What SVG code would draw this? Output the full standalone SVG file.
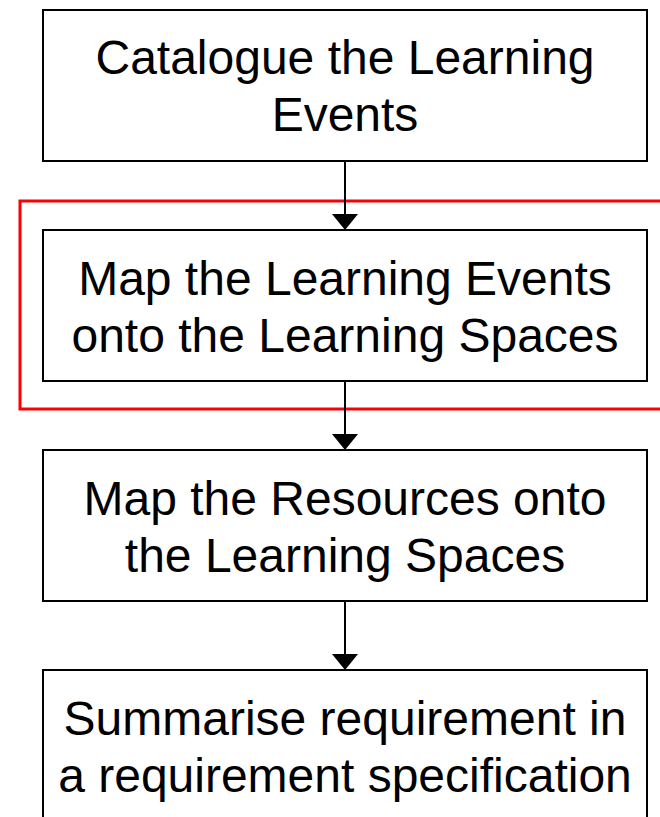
<svg xmlns="http://www.w3.org/2000/svg" width="660" height="817" viewBox="0 0 660 817">
  <style>
    .box { fill: #ffffff; stroke: #000000; stroke-width: 2; }
    .lbl { font-family: "Liberation Sans", Arial, sans-serif; font-size: 48px; fill: #000000; text-anchor: middle; }
    .conn { stroke: #000000; stroke-width: 2; fill: none; }
    .head { fill: #000000; }
    .hl { fill: none; stroke: #ff0000; stroke-width: 3; }
  </style>
  <rect width="660" height="817" fill="#ffffff"/>
  <g id="highlight">
    <rect class="hl" x="20" y="201" width="700" height="208"/>
  </g>
  <g id="node1">
    <rect class="box" x="43" y="10" width="604" height="151"/>
    <text class="lbl" x="345" y="74">Catalogue the Learning</text>
    <text class="lbl" x="345" y="131">Events</text>
  </g>
  <g id="node2">
    <rect class="box" x="43" y="230" width="604" height="151"/>
    <text class="lbl" x="345" y="295">Map the Learning Events</text>
    <text class="lbl" x="345" y="352">onto the Learning Spaces</text>
  </g>
  <g id="node3">
    <rect class="box" x="43" y="450" width="604" height="151"/>
    <text class="lbl" x="345" y="515">Map the Resources onto</text>
    <text class="lbl" x="345" y="572">the Learning Spaces</text>
  </g>
  <g id="node4">
    <rect class="box" x="43" y="670" width="604" height="170"/>
    <text class="lbl" x="345" y="735">Summarise requirement in</text>
    <text class="lbl" x="345" y="792">a requirement specification</text>
  </g>
  <g id="connectors">
    <path class="conn" d="M345,161 L345,214"/>
    <polygon class="head" points="332,214 358,214 345,230"/>
    <path class="conn" d="M345,381 L345,434"/>
    <polygon class="head" points="332,434 358,434 345,450"/>
    <path class="conn" d="M345,601 L345,654"/>
    <polygon class="head" points="332,654 358,654 345,670"/>
  </g>
</svg>
